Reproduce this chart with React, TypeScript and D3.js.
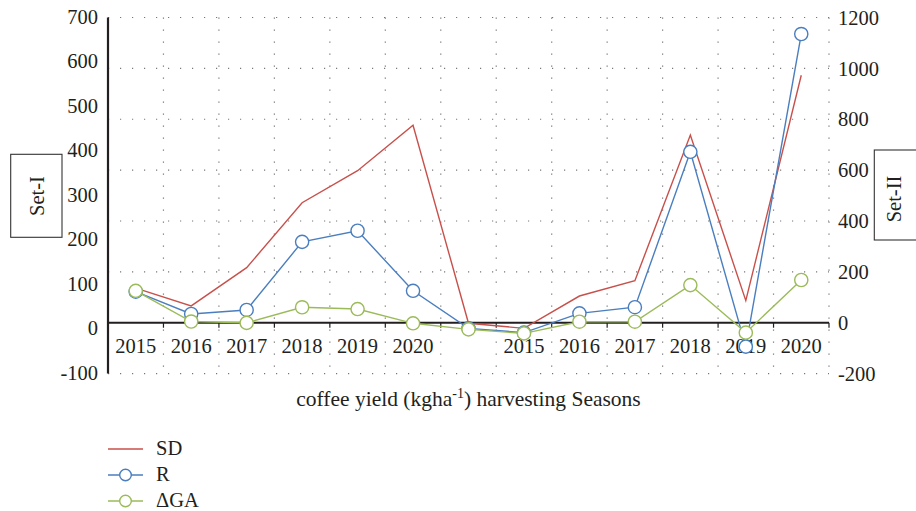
import React from "react";
import * as d3 from "d3";

const categories = ["2015", "2016", "2017", "2018", "2019", "2020", "", "2015", "2016", "2017", "2018", "2019", "2020"];

// Set-I (left axis)
const sdSet1 = [90, 50, 136, 282, 354, 456];
const rSet1 = [82, 32, 41, 194, 219, 84];
const gaSet1 = [84, 15, 12, 47, 43, 11];

// Set-II (right axis), first value is the blank separator category
const sdSet2 = [-2, -22, 105, 165, 738, 87, 973];
const rSet2 = [-22, -39, 37, 61, 672, -94, 1135];
const gaSet2 = [-26, -42, 4, 4, 148, -39, 168];

const leftTicks = [-100, 0, 100, 200, 300, 400, 500, 600, 700];
const rightTicks = [-200, 0, 200, 400, 600, 800, 1000, 1200];

const seriesNames = ["SD", "R", "ΔGA"];
const colors = ["#c8504b", "#4a7ebf", "#9bbb59"];

const W = 916;
const H = 511;
const FONT = "'Liberation Serif', 'Times New Roman', serif";
const FS = 20.5;

export default function App() {
  const x = d3.scaleBand<number>().domain(categories.map((_, i) => i)).range([108, 829]).paddingInner(0).paddingOuter(0);
  const cx = (i: number) => (x(i) as number) + x.bandwidth() / 2;
  const yL = d3.scaleLinear().domain([-100, 700]).range([372.7, 16.7]);
  const yR = d3.scaleLinear().domain([-200, 1200]).range([373.6, 17.5]);

  const buildPts = (s1: number[], s2: number[]) => [
    ...s1.map((v, i) => [cx(i), yL(v)] as [number, number]),
    ...s2.map((v, i) => [cx(i + 6), yR(v)] as [number, number]),
  ];
  const series = [
    { pts: buildPts(sdSet1, sdSet2), marker: false },
    { pts: buildPts(rSet1, rSet2), marker: true },
    { pts: buildPts(gaSet1, gaSet2), marker: true },
  ];
  const line = d3.line();
  const y0 = yR(0);
  const top = yR(1200);
  const bot = yR(-200);
  const boundaries = d3.range(1, categories.length + 1).map((i) => 108 + i * x.bandwidth());

  return (
    <svg width={W} height={H} style={{ position: "absolute", left: 0, top: 0 }} fontFamily={FONT}>
      <rect width={W} height={H} fill="#fff" />
      {rightTicks.filter((t) => t !== 0).map((t) => (
        <line key={"h" + t} x1={108} x2={829} y1={yR(t)} y2={yR(t)} stroke="#777" strokeWidth={1.2} strokeDasharray="1.2,10.8" />
      ))}
      {boundaries.map((b, i) => (
        <line key={"v" + i} x1={b} x2={b} y1={top} y2={bot} stroke="#777" strokeWidth={1.2} strokeDasharray="1.2,10.8" />
      ))}
      <line x1={108} x2={108} y1={top} y2={bot} stroke="#231f20" strokeWidth={2.2} />
      <line x1={107} x2={829} y1={y0} y2={y0} stroke="#231f20" strokeWidth={2.2} />
      {boundaries.map((b, i) => (
        <line key={"t" + i} x1={b} x2={b} y1={y0} y2={y0 + 5} stroke="#231f20" strokeWidth={1.2} />
      ))}
      {leftTicks.map((t) => (
        <text key={"l" + t} x={98} y={yL(t)} dy="0.35em" textAnchor="end" fontSize={FS} fill="#231f20">{t}</text>
      ))}
      {rightTicks.map((t) => (
        <text key={"r" + t} x={838} y={yR(t)} dy="0.35em" textAnchor="start" fontSize={FS} fill="#231f20">{t}</text>
      ))}
      {categories.map((c, i) => (
        <text key={"c" + i} x={cx(i)} y={353} textAnchor="middle" fontSize={FS} fill="#231f20">{c}</text>
      ))}
      <text x={468.5} y={406} textAnchor="middle" fontSize={21.5} fill="#231f20">
        coffee yield (kgha<tspan dy={-8} fontSize={14}>-1</tspan><tspan dy={8}>) harvesting Seasons</tspan>
      </text>
      {series.map((s, k) => (
        <g key={"s" + k}>
          <path d={line(s.pts) as string} fill="none" stroke={colors[k]} strokeWidth={1.4} />
          {s.marker && s.pts.map((p, i) => (
            <circle key={i} cx={p[0]} cy={p[1]} r={6.6} fill="#fff" stroke={colors[k]} strokeWidth={1.4} />
          ))}
        </g>
      ))}
      <rect x={10.7} y={154.3} width={51.3} height={83} fill="none" stroke="#333" strokeWidth={1.1} />
      <text transform="translate(43.5,196) rotate(-90)" textAnchor="middle" fontSize={FS} fill="#231f20">Set-I</text>
      <rect x={874.3} y={150} width={60} height={90} fill="#fff" stroke="#333" strokeWidth={1.1} />
      <text transform="translate(901,199) rotate(-90)" textAnchor="middle" fontSize={FS} fill="#231f20">Set-II</text>
      {seriesNames.map((n, k) => {
        const ly = 449 + k * 26;
        return (
          <g key={"lg" + k}>
            <line x1={108} x2={143} y1={ly} y2={ly} stroke={colors[k]} strokeWidth={1.6} />
            {k > 0 && <circle cx={125.5} cy={ly} r={5.8} fill="#fff" stroke={colors[k]} strokeWidth={1.4} />}
            <text x={156} y={ly + 6} fontSize={FS} fill="#231f20">{n}</text>
          </g>
        );
      })}
    </svg>
  );
}
